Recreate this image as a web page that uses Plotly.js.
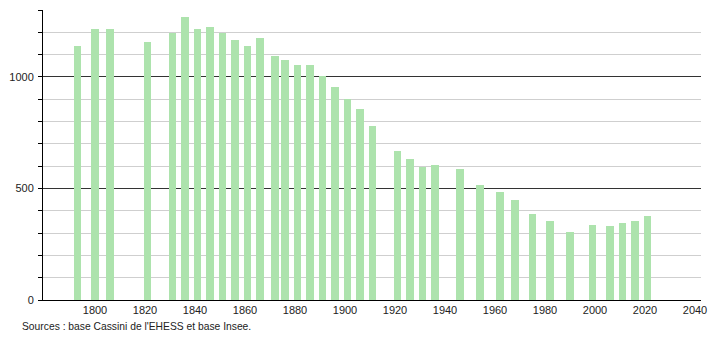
<!DOCTYPE html>
<html>
<head>
<meta charset="utf-8">
<script src="https://cdn.plot.ly/plotly-3.0.1.min.js"></script>
<style>html,body{margin:0;padding:0;background:#fff;}#chart{width:710px;height:340px;}</style>
</head>
<body>
<div id="chart"></div>
<script>
const years = [1793,1800,1806,1821,1831,1836,1841,1846,1851,1856,1861,1866,1872,1876,1881,1886,1891,1896,1901,1906,1911,1921,1926,1931,1936,1946,1954,1962,1968,1975,1982,1990,1999,2006,2011,2016,2021];
const population = [1137,1215,1215,1157,1197,1269,1215,1224,1197,1166,1140,1175,1095,1078,1055,1054,1006,955,903,855,780,666,630,598,605,587,515,482,447,384,352,303,334,330,346,352,375];
const xTicks = [1800,1820,1840,1860,1880,1900,1920,1940,1960,1980,2000,2020,2040];
const yTicks = [0,100,200,300,400,500,600,700,800,900,1000,1100,1200,1300];
const yLabeled = [0,500,1000];
const yMajor = [500,1000];
const sourceText = "Sources : base Cassini de l'EHESS et base Insee.";

const trace = {
  type: 'bar',
  x: years,
  y: population,
  width: years.map(() => 3.1),
  marker: {color: '#ade3ad', line: {width: 0}},
  hoverinfo: 'x+y'
};

const gridTrace = {
  type: 'scatter', mode: 'markers', x: [], y: [], yaxis: 'y2', hoverinfo: 'skip'
};

const layout = {
  width: 710, height: 340,
  margin: {l: 43, r: 9, t: 10, b: 40, pad: 0},
  paper_bgcolor: '#fff', plot_bgcolor: '#fff',
  font: {family: 'Liberation Sans, Arial, sans-serif', size: 11, color: '#222'},
  showlegend: false,
  bargap: 0,
  xaxis: {
    range: [1779.2, 2042.4],
    tickmode: 'array', tickvals: xTicks, ticktext: xTicks.map(String),
    ticks: '', showgrid: false, zeroline: false,
    showline: true, linecolor: '#000', linewidth: 1,
    tickfont: {size: 11, color: '#222'}
  },
  yaxis: {
    range: [0, 1300],
    tickmode: 'array', tickvals: yTicks,
    ticktext: yTicks.map(v => yLabeled.includes(v) ? String(v) : ''),
    ticks: 'outside', ticklen: 4, tickcolor: '#000', tickwidth: 1,
    ticklabelstandoff: 2,
    showgrid: true, gridcolor: '#cfcfcf', gridwidth: 1,
    zeroline: false, showline: true, linecolor: '#000', linewidth: 1,
    tickfont: {size: 11, color: '#222'}
  },
  yaxis2: {
    overlaying: 'y', range: [0, 1300],
    tickmode: 'array', tickvals: yMajor, showticklabels: false, ticks: '',
    showgrid: true, gridcolor: '#333', gridwidth: 1,
    zeroline: false, showline: false
  },
  annotations: [{
    text: sourceText, xref: 'paper', yref: 'paper', x: 0, y: -0.093,
    xshift: -23, xanchor: 'left', yanchor: 'middle', showarrow: false,
    font: {size: 10.3, color: '#222'}
  }]
};

Plotly.newPlot('chart', [trace, gridTrace], layout, {displayModeBar: false, staticPlot: true});
</script>
</body>
</html>
